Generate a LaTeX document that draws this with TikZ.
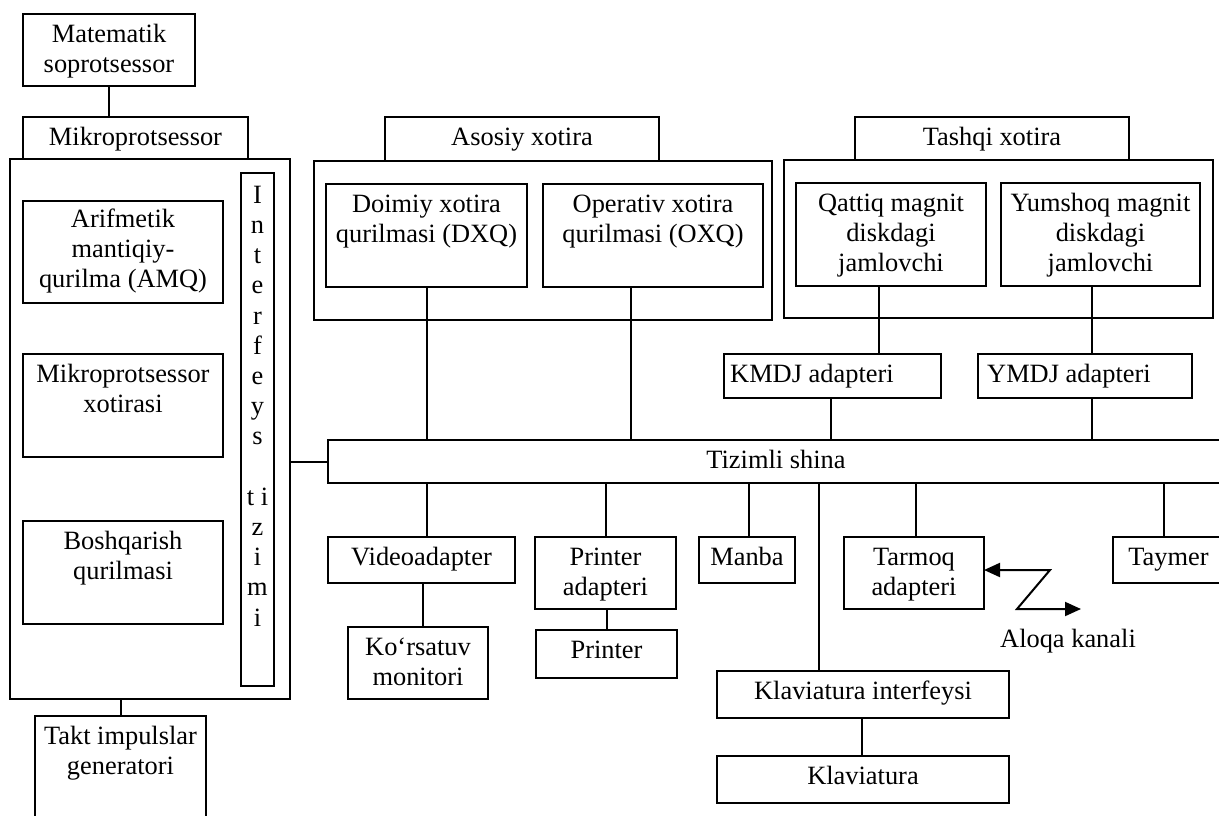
\documentclass[tikz,border=0pt]{standalone}
\usepackage{fontspec}
\setmainfont{Liberation Serif}
\usetikzlibrary{arrows.meta}
% \blk{name}{x1}{y1}{x2}{y2}: an empty framed box between two corners
\newcommand\blk[5]{\node[bx, minimum width={#4-#2}, minimum height={#5-#3}] (#1) at ({(#2+#4)/2},{(#3+#5)/2}) {};}
\newcommand\tstrut{\rule{0pt}{18pt}}
\begin{document}
\begin{tikzpicture}[x=1pt,y=-1pt,
  bx/.style={draw, line width=2pt, inner sep=0pt, outer sep=0pt},
  lbl/.style={anchor=north, inner sep=0pt, align=center, font=\fontsize{26.4pt}{30pt}\selectfont},
  wire/.style={line width=2pt},
  arr/.style={line width=2pt, {Triangle[length=16pt,width=14pt]}-{Triangle[length=16pt,width=14pt]}}]
\useasboundingbox (0,0) rectangle (1219,815);
\clip (0,0) rectangle (1219,815);

% ---------- processor block ----------
\blk{matem}{23}{14}{195}{86}
\node[lbl] (matemt) at ([yshift=-10pt]matem.north) {\tstrut Matematik\\soprotsessor};
\blk{mplabel}{23}{117}{248}{159}
\node[lbl] (mplabelt) at ([yshift=-10pt]mplabel.north) {\tstrut Mikroprotsessor};
\blk{mpouter}{10}{159}{290}{699}
\blk{amq}{23}{201}{223}{303}
\node[lbl] (amqt) at ([yshift=-8pt]amq.north) {\tstrut Arifmetik\\mantiqiy-\\qurilma (AMQ)};
\blk{mpx}{23}{354}{223}{457}
\node[lbl] (mpxt) at ([yshift=-10pt]mpx.north) {\tstrut Mikroprotsessor\\xotirasi};
\blk{bosh}{23}{521}{223}{624}
\node[lbl] (bosht) at ([yshift=-10pt]bosh.north) {\tstrut Boshqarish\\qurilmasi};
\blk{iface}{241}{173}{274}{686}
\node[lbl, font=\fontsize{26.4pt}{30.2pt}\selectfont] (ifacet) at ([yshift=-12pt]iface.north)
  {\tstrut I\\n\\t\\e\\r\\f\\e\\y\\s\\\mbox{}\\t i\\z\\i\\m\\i};
\blk{takt}{35}{716}{206}{840}
\node[lbl] (taktt) at ([yshift=-10pt]takt.north) {\tstrut Takt impulslar\\generatori};

\draw[wire] (matem.south) -- (matem.south |- mplabel.north);
\draw[wire] (takt.north) -- (takt.north |- mpouter.south);

% ---------- main memory ----------
\blk{asolabel}{385}{117}{659}{161}
\node[lbl] (asolabelt) at ([yshift=-10pt]asolabel.north) {\tstrut Asosiy xotira};
\blk{asoouter}{314}{161}{772}{320}
\blk{dxq}{326}{184}{527}{287}
\node[lbl] (dxqt) at ([yshift=-10pt]dxq.north) {\tstrut Doimiy xotira\\qurilmasi (DXQ)};
\blk{oxq}{543}{184}{763}{287}
\node[lbl] (oxqt) at ([yshift=-10pt]oxq.north) {\tstrut Operativ xotira\\qurilmasi (OXQ)};

% ---------- external memory ----------
\blk{tashlabel}{855}{117}{1129}{160}
\node[lbl] (tashlabelt) at ([yshift=-10pt]tashlabel.north) {\tstrut Tashqi xotira};
\blk{tashouter}{784}{160}{1213}{318}
\blk{qat}{796}{183}{986}{286}
\node[lbl] (qatt) at ([yshift=-10pt]qat.north) {\tstrut Qattiq magnit\\diskdagi\\jamlovchi};
\blk{yum}{1001}{183}{1200}{286}
\node[lbl] (yumt) at ([yshift=-10pt]yum.north) {\tstrut Yumshoq magnit\\diskdagi\\jamlovchi};
\blk{kmdj}{724}{354}{941}{398}
\node[lbl, anchor=north west] (kmdjt) at ([xshift=6pt,yshift=-10pt]kmdj.north west) {\tstrut KMDJ adapteri};
\blk{ymdj}{978}{354}{1192}{398}
\node[lbl, anchor=north west] (ymdjt) at ([xshift=9pt,yshift=-10pt]ymdj.north west) {\tstrut YMDJ adapteri};

% ---------- system bus ----------
\blk{bus}{328}{440}{1224}{483}
\node[lbl] (bust) at ([yshift=-10pt]bus.north) {\tstrut Tizimli shina};

\draw[wire] (bus.west) -- (bus.west -| mpouter.east);
\draw[wire] ([xshift=0.5pt]dxq.south) -- ([xshift=0.5pt]dxq.south |- bus.north);
\draw[wire] ([xshift=-22pt]oxq.south) -- ([xshift=-22pt]oxq.south |- bus.north);
\draw[wire] ([xshift=-12pt]qat.south) -- ([xshift=-12pt]qat.south |- kmdj.north);
\draw[wire] ([xshift=-1.5pt]kmdj.south) -- ([xshift=-1.5pt]kmdj.south |- bus.north);
\draw[wire] ([xshift=-8.5pt]yum.south) -- ([xshift=-8.5pt]yum.south |- ymdj.north);
\draw[wire] ([xshift=7pt]ymdj.south) -- ([xshift=7pt]ymdj.south |- bus.north);

% ---------- peripherals ----------
\blk{video}{328}{537}{515}{583}
\node[lbl] (videot) at ([yshift=-10pt]video.north) {\tstrut Videoadapter};
\blk{mon}{348}{627}{488}{699}
\node[lbl] (mont) at ([yshift=-10pt]mon.north) {\tstrut Ko‘rsatuv\\monitori};
\blk{padp}{535}{537}{676}{609}
\node[lbl] (padpt) at ([yshift=-10pt]padp.north) {\tstrut Printer\\adapteri};
\blk{printer}{536}{630}{677}{678}
\node[lbl] (printert) at ([yshift=-10pt]printer.north) {\tstrut Printer};
\blk{manba}{699}{537}{795}{583}
\node[lbl] (manbat) at ([yshift=-10pt]manba.north) {\tstrut Manba};
\blk{tarmoq}{844}{537}{984}{609}
\node[lbl] (tarmoqt) at ([yshift=-10pt]tarmoq.north) {\tstrut Tarmoq\\adapteri};
\blk{taymer}{1113}{537}{1224}{583}
\node[lbl] (taymert) at ([yshift=-10pt]taymer.north) {\tstrut Taymer};
\blk{klavif}{717}{671}{1009}{718}
\node[lbl] (klavift) at ([yshift=-10pt]klavif.north) {\tstrut Klaviatura interfeysi};
\blk{klav}{717}{756}{1009}{803}
\node[lbl] (klavt) at ([yshift=-10pt]klav.north) {\tstrut Klaviatura};

\draw[wire] ([xshift=5.5pt]video.north) -- ([xshift=5.5pt]video.north |- bus.south);
\draw[wire] ([xshift=5pt]mon.north) -- ([xshift=5pt]mon.north |- video.south);
\draw[wire] (padp.north) -- (padp.north |- bus.south);
\draw[wire] (printer.north) -- (printer.north |- padp.south);
\draw[wire] ([xshift=1.5pt]manba.north) -- ([xshift=1.5pt]manba.north |- bus.south);
\draw[wire] ([xshift=2pt]tarmoq.north) -- ([xshift=2pt]tarmoq.north |- bus.south);
\draw[wire] ([xshift=-4.5pt]taymer.north) -- ([xshift=-4.5pt]taymer.north |- bus.south);
\draw[wire] ([xshift=-44pt]klavif.north) -- ([xshift=-44pt]klavif.north |- bus.south);
\draw[wire] ([xshift=-1pt]klav.north) -- ([xshift=-1pt]klav.north |- klavif.south);

% ---------- communication channel ----------
\coordinate (z1) at (1050,570);
\coordinate (z2) at (1017,609);
\coordinate (z3) at (1081,609);
\draw[arr] (z1 -| tarmoq.east) -- (z1) -- (z2) -- (z3);
\node[lbl, anchor=base] (aloqa) at (1068,647) {Aloqa kanali};
\end{tikzpicture}
\end{document}
